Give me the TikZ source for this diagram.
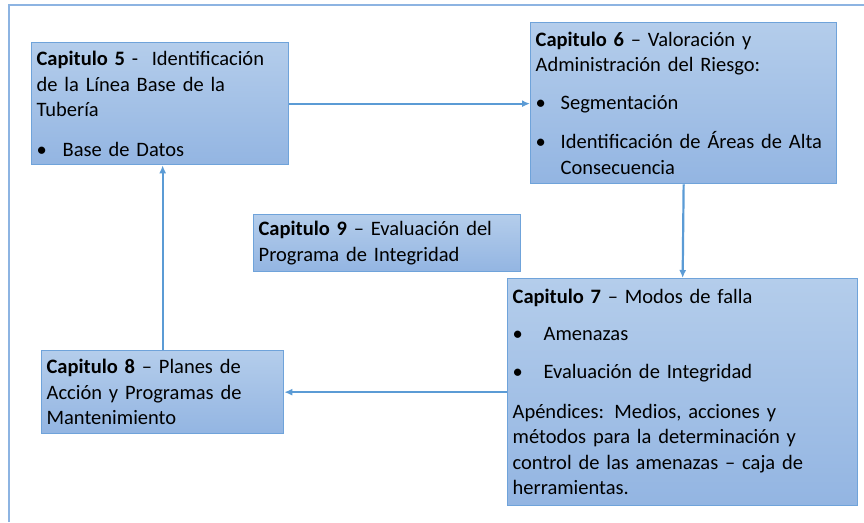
\documentclass[tikz,border=0pt]{standalone}
\usepackage{fontspec}
\setmainfont{Carlito}
\usepackage{tikz}
\usetikzlibrary{arrows.meta}

\definecolor{boxtop}{HTML}{B4CDEB}
\definecolor{boxbot}{HTML}{93B5E2}
\definecolor{boxline}{HTML}{6FA3DA}
\definecolor{flechacol}{HTML}{5B9BD5}
\definecolor{marco}{HTML}{8DB4E2}

\newcommand{\vineta}[2][26pt]{\makebox[#1][l]{\textbullet}#2}

\tikzset{
  capbox/.style={draw=boxline, line width=1.3pt, top color=boxtop, bottom color=boxbot,
    anchor=north west, align=left, inner xsep=5pt, inner ysep=4pt,
    font=\fontsize{20.5}{25.5}\selectfont},
  flecha/.style={draw=flechacol, line width=2.2pt, -{Latex[length=8pt,width=7pt]}}
}

\begin{document}
\begin{tikzpicture}[x=1pt,y=-1pt]
            \useasboundingbox (0,0) rectangle (864,522);
            \draw[marco, line width=1.3pt] (9,522)--(9,5)--(864,5);
            % cajas
            \node[capbox, text width=247pt, minimum height=122pt] (cap5) at (31,42)
              {\textbf{Capitulo 5} -\ \ Identificación\\de la Línea Base de la\\Tubería\\[14pt]
               \vineta{Base de Datos}};
            \node[capbox, text width=296pt, minimum height=161pt] (cap6) at (530,22)
              {\textbf{Capitulo 6} – Valoración y\\Administración del Riesgo:\\[12pt]
               \vineta[25pt]{Segmentación}\\[14pt]
               \vineta[25pt]{Identificación de Áreas de Alta}\\\hspace*{25pt}Consecuencia};
            \node[capbox, text width=257pt, minimum height=57pt] (cap9) at (253,214)
              {\textbf{Capitulo 9} – Evaluación del\\Programa de Integridad};
            \node[capbox, text width=340pt, minimum height=227pt] (cap7) at (507,278)
              {\textbf{Capitulo 7} – Modos de falla\\[11pt]
               \vineta[31pt]{Amenazas}\\[13pt]
               \vineta[31pt]{Evaluación de Integridad}\\[14pt]
               Apéndices: Medios, acciones y\\métodos para la determinación y\\
               control de las amenazas – caja de\\herramientas.};
            \node[capbox, text width=232pt, minimum height=83pt] (cap8) at (41,350)
              {\textbf{Capitulo 8} – Planes de\\Acción y Programas de\\Mantenimiento};
            % flechas
            \draw[flecha] (cap5.east)--(cap5.east -| cap6.west);
            \draw[flecha] (cap6.south)--(cap7.north);
            \draw[flecha] (cap7.west)--(cap8.east);
            \draw[flecha] (cap8.north)--(cap8.north |- cap5.south);
        \end{tikzpicture}
\end{document}
